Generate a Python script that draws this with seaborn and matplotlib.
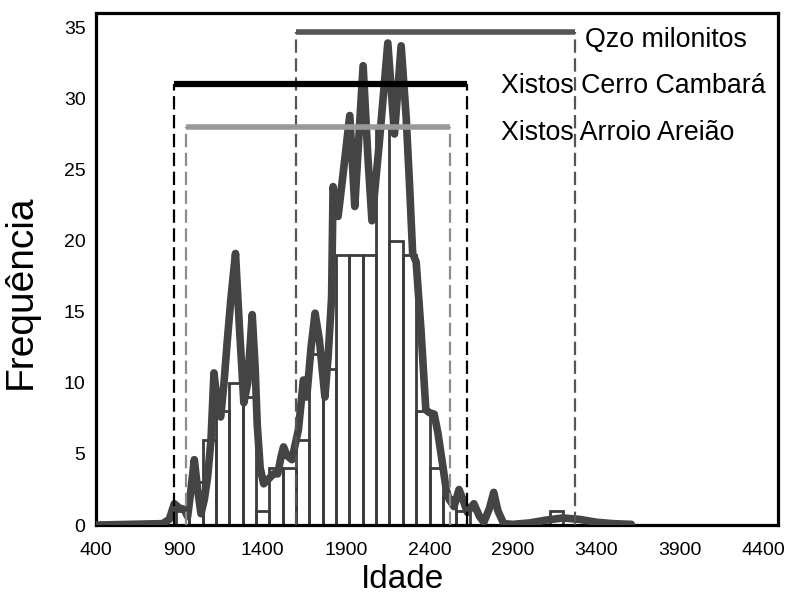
import numpy as np
import pandas as pd
import matplotlib
matplotlib.use("Agg")
import matplotlib.pyplot as plt
import seaborn as sns

# ---------------- data ----------------
bin_starts = [880, 960, 1040, 1120, 1200, 1280, 1360, 1440, 1520, 1600,
              1680, 1760, 1840, 1920, 2000, 2080, 2160, 2240, 2320, 2400,
              2480, 2560, 2640, 2720, 2800, 2880, 2960, 3040, 3120]
bin_counts = [1, 3, 6, 8, 10, 9, 1, 4, 4, 6,
              12, 11, 19, 19, 19, 28, 20, 19, 8, 4,
              2, 1, 0, 0, 0, 0, 0, 0, 1]
bin_width = 80

curve_x = [400, 600, 800, 840, 870, 900, 930, 950, 970, 990, 1010, 1030, 1050,
           1070, 1090, 1108, 1128, 1148, 1168, 1188, 1210, 1237, 1260, 1287,
           1310, 1337, 1355, 1367, 1385, 1406, 1440, 1465, 1490, 1510, 1525,
           1545, 1575, 1614, 1644, 1664, 1690, 1714, 1740, 1773, 1793, 1813,
           1822, 1852, 1885, 1922, 1952, 1975, 2002, 2030, 2055, 2100, 2150,
           2190, 2230, 2260, 2280, 2299, 2320, 2349, 2378, 2400, 2428, 2450,
           2478, 2500, 2518, 2547, 2577, 2600, 2627, 2666, 2700, 2726, 2760,
           2785, 2810, 2845, 2900, 3000, 3100, 3200, 3300, 3400, 3500, 3610]
curve_y = [0.0, 0.05, 0.1, 0.4, 1.5, 1.2, 1.1, 0.6, 2.5, 4.6, 2.5, 0.8, 1.8,
           3.4, 6.0, 10.7, 8.5, 7.6, 10.0, 13.0, 16.0, 19.1, 14.0, 8.6,
           10.0, 14.8, 11.0, 7.1, 4.0, 2.9, 3.3, 3.6, 3.6, 4.8, 5.5,
           4.9, 4.6, 6.7, 10.2, 9.0, 12.5, 14.9, 13.0, 9.0, 12.0, 16.0,
           23.8, 21.7, 25.0, 28.8, 22.4, 27.0, 32.3, 26.0, 21.4, 27.0, 33.9,
           27.5, 33.7, 28.7, 24.0, 19.1, 18.5, 13.7, 8.1, 7.9, 7.8, 6.5,
           4.3, 2.5, 1.8, 1.3, 2.5, 1.8, 0.9, 1.5, 0.6, 0.2, 1.2,
           2.3, 1.0, 0.1, 0.05, 0.15, 0.35, 0.5, 0.4, 0.2, 0.1, 0.05]

range_names = ["Qzo milonitos", "Xistos Cerro Cambará", "Xistos Arroio Areião"]
range_start = [1600, 870, 940]
range_end = [3270, 2625, 2520]
range_level = [34.7, 31.0, 28.0]

x_ticks = [400, 900, 1400, 1900, 2400, 2900, 3400, 3900, 4400]
y_ticks = [0, 5, 10, 15, 20, 25, 30, 35]

# ---------------- style ----------------
sns.set_theme(style="white")
plt.rcParams['font.family'] = ['Liberation Sans Narrow', 'Liberation Sans', 'DejaVu Sans']

fig = plt.figure(figsize=(7.86, 5.96), dpi=100)
ax = fig.add_axes([0.122, 0.119, 0.868, 0.859])

hist_df = pd.DataFrame({"age": [s + bin_width / 2 for s in bin_starts],
                        "count": bin_counts})
edges = bin_starts + [bin_starts[-1] + bin_width]
sns.histplot(data=hist_df, x="age", weights="count", bins=edges,
             fill=False, element="bars", color="#3c3c3c", linewidth=2.0,
             ax=ax, zorder=2)

curve_df = pd.DataFrame({"age": curve_x, "freq": curve_y})
sns.lineplot(data=curve_df, x="age", y="freq", color="#444444",
             linewidth=5.5, ax=ax, zorder=3, sort=False,
             solid_joinstyle="round", solid_capstyle="round")

bar_colors = ["#555555", "#000000", "#999999"]
dash_colors = ["#555555", "#000000", "#8c8c8c"]
bar_widths = [4.0, 4.5, 4.0]
for name, s, e, lvl, bc, dc, bw in zip(range_names, range_start, range_end,
                                       range_level, bar_colors, dash_colors, bar_widths):
    ax.vlines([s, e], 0, lvl, colors=dc, linestyles=(0, (6, 2.5)),
              linewidth=1.6, zorder=4)
    ax.hlines(lvl, s, e, colors=bc, linewidth=bw, zorder=5)

text_x = [3330, 2830, 2830]
text_y = [34.1, 30.9, 27.6]
for name, tx, ty in zip(range_names, text_x, text_y):
    ax.text(tx, ty, name, fontsize=19.3, va="center", ha="left", color="black",
            zorder=6)

ax.set_xlim(400, 4490)
ax.set_ylim(0, 36)
ax.set_xticks(x_ticks)
ax.set_yticks(y_ticks)
ax.set_xticks(np.arange(400, 4500, 100), minor=True)
ax.set_yticks(np.arange(0, 36, 1), minor=True)
ax.tick_params(axis="both", which="major", direction="inout", length=7,
               width=1.5, color="black", labelsize=14, labelcolor="black", pad=4)
ax.tick_params(axis="both", which="minor", direction="inout", length=3.5,
               width=1.2, color="black")
ax.tick_params(axis="x", which="major", pad=9)
for sp in ax.spines.values():
    sp.set_visible(True)
    sp.set_color("black")
    sp.set_linewidth(2.3)

ax.set_xlabel("Idade", fontsize=24, color="black")
ax.set_ylabel("Frequência", fontsize=28, color="black",
              family=['Liberation Sans', 'DejaVu Sans'])
ax.xaxis.set_label_coords(0.449, -0.076)
ax.yaxis.set_label_coords(-0.084, 0.455)
ax.grid(False)

fig.savefig("out.png", dpi=100)
